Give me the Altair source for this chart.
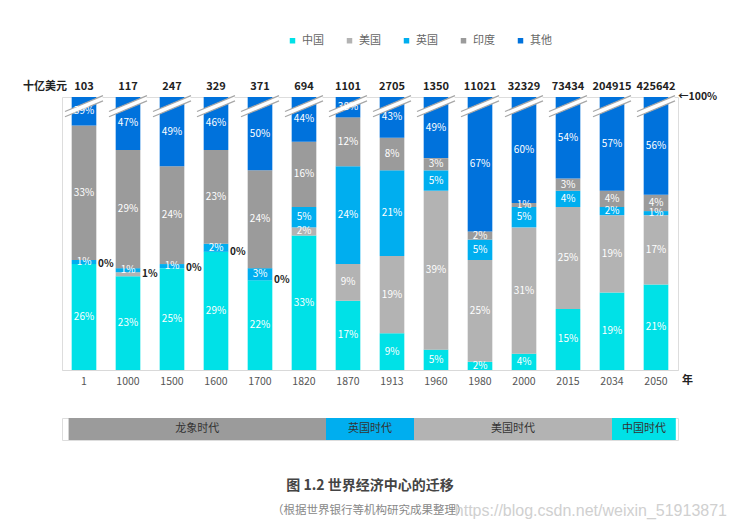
import altair as alt
import pandas as pd

FONT = "Noto Sans CJK SC"

years = ["1", "1000", "1500", "1600", "1700", "1820", "1870", "1913",
         "1960", "1980", "2000", "2015", "2034", "2050"]
gdp_total = [103, 117, 247, 329, 371, 694, 1101, 2705, 1350, 11021,
             32329, 73434, 204915, 425642]
countries = ["中国", "美国", "英国", "印度", "其他"]
colors = ["#00E1E7", "#B3B3B3", "#00AEEF", "#9B9B9B", "#0072DC"]
china = [26, 23, 25, 29, 22, 33, 17, 9, 5, 2, 4, 15, 19, 21]
usa = [0, 1, 0, 0, 0, 2, 9, 19, 39, 25, 31, 25, 19, 17]
uk = [1, 1, 1, 2, 3, 5, 24, 21, 5, 5, 5, 4, 2, 1]
india = [33, 29, 24, 23, 24, 16, 12, 8, 3, 2, 1, 3, 4, 4]
other = [39, 47, 49, 46, 50, 44, 38, 43, 49, 67, 60, 54, 57, 56]
outside_years = ["1", "1000", "1500", "1600", "1700"]  # US share labelled beside the bar

eras = ["龙象时代", "英国时代", "美国时代", "中国时代"]
era_start = [0.15, 6, 8, 12.5]
era_end = [6, 8, 12.5, 13.95]
era_colors = ["#9B9B9B", "#00AEEF", "#B3B3B3", "#00E1E7"]

caption = "图 1.2  世界经济中心的迁移"
source = "（根据世界银行等机构研究成果整理）"
watermark_text = "https://blog.csdn.net/weixin_51913871"

CAP = 67          # visible top of the broken bars (the "100%" line)
BREAK_LO, BREAK_HI = 62.8, 66.7

rows = []
for i, y in enumerate(years):
    for j, (c, vals) in enumerate(zip(countries, [china, usa, uk, india, other])):
        rows.append({"year": y, "country": c, "order": j, "value": vals[i],
                     "inside": not (c == "美国" and y in outside_years)})
df = pd.DataFrame(rows)
tot_df = pd.DataFrame({"year": years, "total": gdp_total})
era_df = pd.DataFrame({"era": eras, "start": era_start, "end": era_end, "color": era_colors})

xscale = alt.Scale(paddingInner=0.44, paddingOuter=0.22)
xenc = alt.X("year:N", sort=years, scale=xscale,
             axis=alt.Axis(title=None, labelAngle=0, ticks=False, domainColor="#D9D9D9",
                           labelColor="#555555", labelFontSize=10.5, labelPadding=6,
                           labelFont=FONT))
xplain = alt.X("year:N", sort=years)
yscale = alt.Scale(domain=[0, CAP], clamp=True, nice=False, zero=True)

base = (alt.Chart(df)
        .transform_stack(stack="value", groupby=["year"], sort=[alt.SortField("order")],
                         as_=["y0", "y1"])
        .transform_calculate(mid=f"(datum.y0 + min(datum.y1, {CAP})) / 2",
                             label="datum.value + '%'"))

bars = base.mark_bar().encode(
    x=xenc,
    y=alt.Y("y0:Q", scale=yscale, axis=None),
    y2="y1:Q",
    color=alt.Color("country:N", sort=countries,
                    scale=alt.Scale(domain=countries, range=colors),
                    legend=alt.Legend(title=None, orient="none", direction="horizontal",
                                      legendX=225, legendY=-62, symbolType="square",
                                      symbolSize=30, symbolStrokeWidth=0,
                                      labelFontSize=11, labelColor="#666666",
                                      labelFont=FONT, columnPadding=20)),
)

inside_lbl = base.transform_filter("datum.value > 0 && datum.inside").mark_text(
    color="white", fontSize=10, font=FONT).encode(
    x=xplain, y="mid:Q", text="label:N")

outside_lbl = base.transform_filter("!datum.inside").mark_text(
    color="#222222", fontSize=10, font=FONT, fontWeight="bold", align="left", dx=14).encode(
    x=xplain, y="mid:Q", text="label:N")

brk_base = alt.Chart(tot_df)


def brk(color, width, off):
    return brk_base.mark_rule(color=color, strokeWidth=width, xOffset=-19, x2Offset=19,
                              yOffset=off, y2Offset=off).encode(
        x=alt.X("year:N", sort=years, bandPosition=0.5),
        x2=alt.X2("year", bandPosition=0.5),
        y=alt.datum(BREAK_LO), y2=alt.datum(BREAK_HI))


brk_white = brk("white", 5, 0)
brk_a = brk("#A6A6A6", 1.2, -2.6)
brk_b = brk("#A6A6A6", 1.2, 2.6)

totals = brk_base.mark_text(fontSize=11, fontWeight="bold", color="#222222", font=FONT,
                            dy=-10).encode(
    x=xplain, y=alt.datum(CAP), text=alt.Text("total:Q", format="d"))

unit_lbl = alt.Chart(tot_df.head(1)).mark_text(
    fontSize=11, fontWeight="bold", color="#222222", font=FONT, align="right",
    dx=-17, dy=-10).encode(x=xplain, y=alt.datum(CAP), text=alt.value("十亿美元"))

year_lbl = alt.Chart(tot_df.tail(1)).mark_text(
    fontSize=11, fontWeight="bold", color="#222222", font=FONT, align="left",
    dx=26, dy=11).encode(x=xplain, y=alt.datum(0), text=alt.value("年"))

pct_lbl = alt.Chart(tot_df.tail(1)).mark_text(
    fontSize=10.5, fontWeight="bold", color="#222222", font=FONT, align="left",
    dx=22).encode(x=xplain, y=alt.datum(CAP), text=alt.value("←100%"))

main = alt.layer(bars, brk_white, brk_a, brk_b, inside_lbl, outside_lbl, totals,
                 unit_lbl, year_lbl, pct_lbl).properties(width=616, height=273)

xq = alt.Scale(domain=[0, 14], nice=False, zero=False)
era_bars = alt.Chart(era_df).mark_rect().encode(
    x=alt.X("start:Q", scale=xq, axis=None),
    x2="end:Q",
    color=alt.Color("color:N", scale=None))
era_text = alt.Chart(era_df).transform_calculate(
    mid="(datum.start + datum.end) / 2").mark_text(
    fontSize=11, color="#333333", font=FONT, baseline="middle").encode(
    x="mid:Q", y=alt.value(11), text="era:N")

one = era_df.head(1)
cap_text = alt.Chart(one).mark_text(
    fontSize=14, fontWeight="bold", color="#444444", font=FONT, baseline="middle").encode(
    x=alt.datum(7), y=alt.value(68), text=alt.value(caption))
src_text = alt.Chart(one).mark_text(
    fontSize=11.5, color="#888888", font=FONT, baseline="middle", align="right",
    dx=5).encode(
    x=alt.datum(9.1), y=alt.value(93), text=alt.value(source))
watermark = alt.Chart(one).mark_text(
    fontSize=16, color="#D0D0D0", font="Liberation Sans", align="right",
    baseline="middle", dx=49).encode(
    x=alt.datum(14), y=alt.value(93), text=alt.value(watermark_text))

era = alt.layer(era_bars, era_text, cap_text, src_text, watermark).properties(
    width=616, height=22)

chart = (alt.vconcat(main, era, spacing=30)
         .resolve_scale(color="independent", x="independent")
         .properties(padding={"left": 14, "top": 26, "right": 0, "bottom": 0})
         .configure_view(stroke=None)
         .configure(font=FONT))

chart.save("out.html", embed_options={"renderer": "svg", "actions": False})
